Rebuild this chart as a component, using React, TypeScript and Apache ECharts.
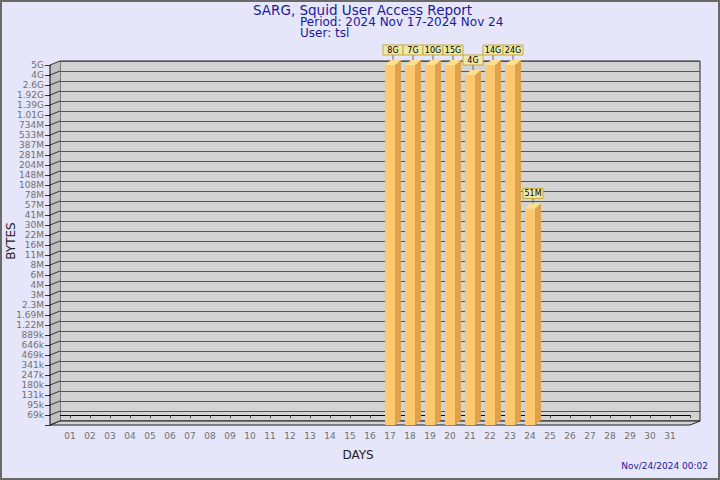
import { useEffect, useRef } from 'react';
import * as echarts from 'echarts';

const yTickLabels = ['69k', '95k', '131k', '180k', '247k', '341k', '469k', '646k', '889k', '1.22M', '1.69M', '2.3M', '3M', '4M', '6M', '8M', '11M', '16M', '22M', '30M', '41M', '57M', '78M', '108M', '148M', '204M', '281M', '387M', '533M', '734M', '1.01G', '1.39G', '1.92G', '2.6G', '4G', '5G'];
const dayLabels = ['01', '02', '03', '04', '05', '06', '07', '08', '09', '10', '11', '12', '13', '14', '15', '16', '17', '18', '19', '20', '21', '22', '23', '24', '25', '26', '27', '28', '29', '30', '31'];
const barDays = [17, 18, 19, 20, 21, 22, 23, 24];
const barBytes = [8e9, 7e9, 10e9, 15e9, 4e9, 14e9, 24e9, 51e6];
const barLabels = ['8G', '7G', '10G', '15G', '4G', '14G', '24G', '51M'];

const titleText = 'SARG, Squid User Access Report';
const periodText = 'Period: 2024 Nov 17-2024 Nov 24';
const userText = 'User: tsl';
const dateText = 'Nov/24/2024 00:02';

const FONT = '"DejaVu Sans", Verdana, sans-serif';

function parseSize(s: string): number {
  const n = parseFloat(s);
  const u = s.slice(-1);
  return n * (u === 'k' ? 1e3 : u === 'M' ? 1e6 : u === 'G' ? 1e9 : 1);
}
const tickValues = yTickLabels.map(parseSize);
const topIndex = yTickLabels.length - 1;

function toIndex(v: number): number {
  if (v >= tickValues[topIndex]) return topIndex;
  if (v <= tickValues[0]) return 0;
  for (let i = 0; i < topIndex; i++) {
    const a = tickValues[i], b = tickValues[i + 1];
    if (v >= a && v <= b) return i + Math.log(v / a) / Math.log(b / a);
  }
  return 0;
}

export default function App() {
  const ref = useRef<HTMLDivElement>(null);
  useEffect(() => {
    if (!ref.current) return;
    const chart = echarts.init(ref.current, null, { renderer: 'svg' });
    const barData = barDays.map((d, i) => [d, toIndex(barBytes[i])]);
    const OX = 10, OY = -4;
    const option: any = {
      animation: false,
      backgroundColor: '#E6E6FA',
      textStyle: { fontFamily: FONT },
      grid: [
        { left: 60, right: 20, top: 61, bottom: 59, show: true, backgroundColor: '#D3D3D3', borderColor: '#222', borderWidth: 1 },
        { left: 50, right: 30, top: 65, bottom: 55 },
      ],
      xAxis: [
        { gridIndex: 0, type: 'value', min: 0, max: 32, interval: 1, show: false },
        {
          gridIndex: 1, type: 'value', min: 0, max: 32, interval: 1,
          axisLine: { show: true, lineStyle: { color: '#000', width: 1 } },
          axisTick: { show: true, length: 3, lineStyle: { color: '#444' } },
          axisLabel: {
            show: true, margin: 6, color: '#707070', fontSize: 9, fontFamily: FONT,
            formatter: (v: number) => (v >= 1 && v <= dayLabels.length ? dayLabels[v - 1] : ''),
          },
          splitLine: { show: false },
        },
      ],
      yAxis: [
        {
          gridIndex: 0, type: 'value', min: -1, max: topIndex, interval: 1,
          axisLine: { show: false }, axisTick: { show: false }, axisLabel: { show: false },
          splitLine: { show: true, lineStyle: { color: '#555', width: 1 } },
        },
        {
          gridIndex: 1, type: 'value', min: -1, max: topIndex, interval: 1,
          axisLine: { show: true, lineStyle: { color: '#000', width: 1 } },
          axisTick: { show: true, length: 5, lineStyle: { color: '#333' } },
          axisLabel: {
            show: true, margin: 6, color: '#707070', fontSize: 9, fontFamily: FONT,
            formatter: (v: number) => (v >= 0 && v <= topIndex ? yTickLabels[Math.round(v)] : ''),
          },
          splitLine: { show: false },
        },
      ],
      series: [
        {
          type: 'custom', xAxisIndex: 1, yAxisIndex: 1, z: 1, silent: true,
          data: [[0, 0]],
          renderItem: (_params: any, api: any) => {
            const [xl, yTop] = api.coord([0, topIndex]);
            const [, yBot] = api.coord([0, -1]);
            const [xr] = api.coord([32, -1]);
            const children: any[] = [
              { type: 'polygon', shape: { points: [[xl, yTop], [xl + OX, yTop + OY], [xl + OX, yBot + OY], [xl, yBot]] }, style: { fill: '#C0C0C0' } },
              { type: 'polygon', shape: { points: [[xl, yBot], [xr, yBot], [xr + OX, yBot + OY], [xl + OX, yBot + OY]] }, style: { fill: '#D3D3D3', stroke: '#222', lineWidth: 1 } },
            ];
            for (let i = -1; i <= topIndex; i++) {
              const [, y] = api.coord([0, i]);
              children.push({ type: 'line', shape: { x1: xl, y1: y, x2: xl + OX, y2: y + OY }, style: { stroke: '#333', lineWidth: 1 } });
            }
            children.push({ type: 'line', shape: { x1: xl, y1: yTop, x2: xl, y2: yBot }, style: { stroke: '#000', lineWidth: 1 } });
            return { type: 'group', children };
          },
        },
        {
          type: 'custom', xAxisIndex: 1, yAxisIndex: 1, z: 5, silent: true,
          data: barData,
          renderItem: (params: any, api: any) => {
            const d = api.value(0), idx = api.value(1);
            const [cx, yt] = api.coord([d, idx]);
            const [, yb] = api.coord([d, -1]);
            const x0 = cx - 5, x1 = cx + 5;
            const dx = 6, dy = 5;
            const bx = cx + 3;
            const by = yt - dy - 5;
            const label = barLabels[params.dataIndex];
            return {
              type: 'group',
              children: [
                { type: 'rect', shape: { x: x0, y: yt, width: 10, height: yb - yt }, style: { fill: '#FFC76E' } },
                { type: 'polygon', shape: { points: [[x1, yt], [x1 + dx, yt - dy], [x1 + dx, yb - dy], [x1, yb]] }, style: { fill: '#DCA24C' } },
                { type: 'polygon', shape: { points: [[x0, yt], [x1, yt], [x1 + dx, yt - dy], [x0 + dx, yt - dy]] }, style: { fill: '#FFE08E' } },
                { type: 'line', shape: { x1: bx, y1: by, x2: bx, y2: yt - dy }, style: { stroke: '#666', lineWidth: 1 } },
                { type: 'rect', shape: { x: bx - 10, y: by - 10, width: 20, height: 10 }, style: { fill: '#F0EAA8', stroke: '#C8A83C', lineWidth: 1 } },
                { type: 'text', style: { x: bx, y: by - 4.5, text: label, align: 'center', verticalAlign: 'middle', fontSize: 8, fontFamily: FONT, fill: '#000' } },
              ],
            };
          },
        },
      ],
      graphic: [
        { type: 'rect', shape: { x: 1, y: 1, width: 718, height: 478 }, style: { fill: 'none', stroke: '#6A6A6A', lineWidth: 2 }, z: 100 },
        { type: 'text', x: 253, y: 4.5, style: { text: titleText, fill: '#1A1A9A', font: `13.5px ${FONT}`, lineHeight: 11 } },
        { type: 'text', x: 300, y: 16.5, style: { text: periodText, fill: '#1A1A9A', font: `12px ${FONT}`, lineHeight: 11 } },
        { type: 'text', x: 300, y: 27.5, style: { text: userText, fill: '#1A1A9A', font: `12px ${FONT}`, lineHeight: 11 } },
        { type: 'text', x: 358, y: 455, style: { text: 'DAYS', fill: '#222', font: `12px ${FONT}`, align: 'center', verticalAlign: 'middle', textAlign: 'center', textVerticalAlign: 'middle' } },
        { type: 'text', x: 11, y: 241, rotation: Math.PI / 2, style: { text: 'BYTES', fill: '#222', font: `12px ${FONT}`, align: 'center', verticalAlign: 'middle', textAlign: 'center', textVerticalAlign: 'middle' } },
        { type: 'text', x: 708, y: 466, style: { text: dateText, fill: '#1A1A9A', font: `9px ${FONT}`, align: 'right', verticalAlign: 'middle', textAlign: 'right', textVerticalAlign: 'middle' } },
      ],
    };
    chart.setOption(option);
    return () => chart.dispose();
  }, []);
  return <div ref={ref} style={{ position: 'fixed', left: 0, top: 0, width: 720, height: 480 }} />;
}
